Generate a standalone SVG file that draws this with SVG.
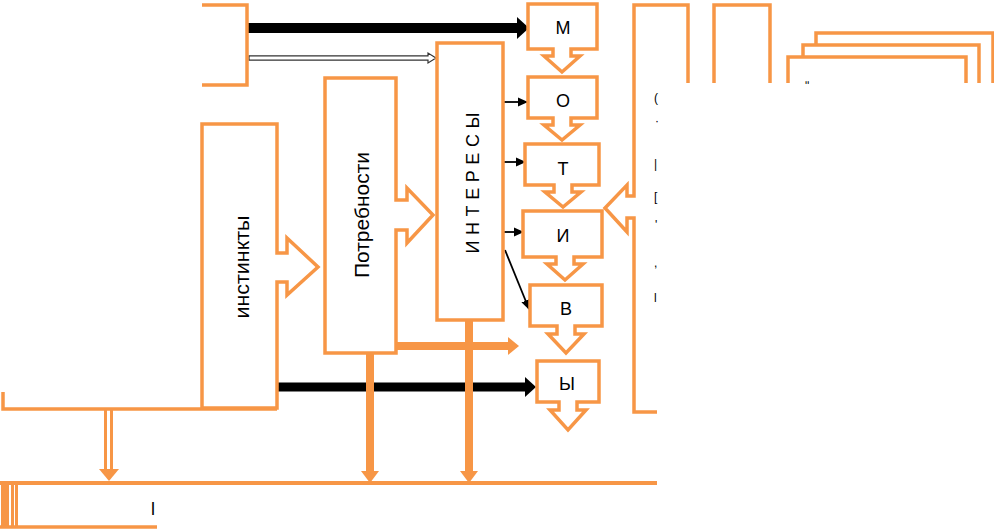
<svg xmlns="http://www.w3.org/2000/svg" width="994" height="530" viewBox="0 0 994 530">
<style>
.o{fill:#ffffff;stroke:#F79646;stroke-width:3.5;stroke-linejoin:miter}
.on{fill:none;stroke:#F79646;stroke-width:3.5}
.of{fill:#F79646;stroke:none}
.ol{stroke:#F79646;fill:none}
.k{stroke:#000;fill:none}
.kf{fill:#000;stroke:none}
.t{font-family:"Liberation Sans","Open Sans",sans-serif;fill:#000}
.frag{font-family:"Liberation Sans",sans-serif;fill:#000;font-size:12px}
</style>
<defs>
<marker id="ah" markerWidth="10" markerHeight="10" refX="9" refY="5" orient="auto" markerUnits="userSpaceOnUse">
<path d="M0,0.5 L10,5 L0,9.5 Z" fill="#000"/>
</marker>
</defs>
<rect width="994" height="530" fill="#fff"/>

<g id="connectors">
<line class="k" x1="247" y1="28" x2="519" y2="28" stroke-width="10"/>
<path class="kf" d="M517,17 L529,28 L517,39 Z"/>
<path d="M249,55.8 H428 V53 L436,58 L428,63 V60.2 H249 Z" fill="#fff" stroke="#333" stroke-width="1.2"/>
<line class="k" x1="503" y1="102" x2="527" y2="102" stroke-width="1.8" marker-end="url(#ah)"/>
<line class="k" x1="503" y1="162" x2="525" y2="162" stroke-width="1.8" marker-end="url(#ah)"/>
<line class="k" x1="503" y1="232" x2="523" y2="232" stroke-width="1.8" marker-end="url(#ah)"/>
<line class="k" x1="505" y1="250" x2="529" y2="309" stroke-width="1.8" marker-end="url(#ah)"/>
<line class="k" x1="277" y1="387" x2="527" y2="387" stroke-width="9"/>
<path class="kf" d="M525,377 L536,387 L525,397 Z"/>
<line class="ol" x1="396" y1="346" x2="509" y2="346" stroke-width="8"/>
<path class="of" d="M508,337 L519,346 L508,355 Z"/>
<line class="ol" x1="370" y1="353" x2="370" y2="473" stroke-width="8"/>
<path class="of" d="M361,471 L370,483 L379,471 Z"/>
<line class="ol" x1="469" y1="320" x2="469" y2="473" stroke-width="8"/>
<path class="of" d="M460,471 L469,483 L478,471 Z"/>
<line class="ol" x1="105.5" y1="409" x2="105.5" y2="471" stroke-width="3"/>
<line class="ol" x1="111.5" y1="409" x2="111.5" y2="471" stroke-width="3"/>
<path class="of" d="M99,469 L109,481 L119,469 Z"/>
</g>

<g id="source-top">
<path class="on" d="M202,5 H247 V85 H202"/>
</g>

<g id="base-left">
<path class="on" d="M3,392 V409 H277"/>
</g>

<g id="instinkty">
<path class="o" d="M202,124 H277 V253 H287 V238 L318,267 L287,295 V282 H277 V408 H202 Z"/>
<text class="t" x="242" y="267" font-size="20" text-anchor="middle" dominant-baseline="central" transform="rotate(-90 242 267)" textLength="103" lengthAdjust="spacingAndGlyphs">инстинкты</text>
</g>

<g id="potrebnosti">
<path class="o" d="M325,78 H396 V200 H407 V188 L433,215 L407,243 V230 H396 V353 H325 Z"/>
<text class="t" x="362" y="215" font-size="20" text-anchor="middle" dominant-baseline="central" transform="rotate(-90 362 215)" textLength="126" lengthAdjust="spacingAndGlyphs">Потребности</text>
</g>

<g id="interesy">
<rect class="o" x="437" y="43" width="66" height="277"/>
<text class="t" x="473" y="183" font-size="18" text-anchor="middle" dominant-baseline="central" transform="rotate(-90 473 183)" textLength="141" lengthAdjust="spacing">И Н Т Е Р Е С Ы</text>
</g>

<g id="motiv-m">
<path class="o" d="M528,4 H597 V49 H571 V56 H580 L562,72 L544,56 H553 V49 H528 Z"/>
<text class="t" x="563" y="34" font-size="18" text-anchor="middle">М</text>
</g>
<g id="motiv-o">
<path class="o" d="M528,77 H597 V118 H571 V125 H580 L562,140 L544,125 H553 V118 H528 Z"/>
<text class="t" x="563" y="107" font-size="18" text-anchor="middle">О</text>
</g>
<g id="motiv-t">
<path class="o" d="M525,144 H599 V185 H572 V192 H581 L563,207 L545,192 H554 V185 H525 Z"/>
<text class="t" x="563" y="175" font-size="18" text-anchor="middle">Т</text>
</g>
<g id="motiv-i">
<path class="o" d="M523,211 H602 V257 H574 V264 H583 L565,280 L547,264 H556 V257 H523 Z"/>
<text class="t" x="563" y="242" font-size="18" text-anchor="middle">И</text>
</g>
<g id="motiv-v">
<path class="o" d="M530,285 H602 V326 H575 V334 H584 L566,353 L548,334 H557 V326 H530 Z"/>
<text class="t" x="566" y="315" font-size="18" text-anchor="middle">В</text>
</g>
<g id="motiv-y">
<path class="o" d="M537,361 H599 V402 H577 V410 H586 L568,430 L550,410 H559 V402 H537 Z"/>
<text class="t" x="567" y="390" font-size="18" text-anchor="middle">Ы</text>
</g>

<g id="values-box">
<path class="on" d="M657,412 H634 V218 H627 V232 L605,208 L627,185 V196 H634 V5 H688 V83"/>
<text class="frag" x="654" y="102" font-size="10">(</text>
<text class="frag" x="655" y="125" font-size="12">·</text>
<text class="frag" x="654" y="168" font-size="14">|</text>
<text class="frag" x="654" y="201" font-size="14">[</text>
<text class="frag" x="655" y="229" font-size="12">'</text>
<text class="frag" x="654" y="267" font-size="12">,</text>
<text class="frag" x="654" y="302" font-size="17">l</text>
</g>

<g id="box-top-2">
<path class="on" d="M714,83 V5 H770 V83"/>
</g>
<g id="stack-boxes">
<path class="on" d="M816,45 V33 H993 V83"/>
<path class="on" d="M803,57 V45 H979 V83"/>
<path class="on" d="M788,83 V57 H966 V83"/>
<text class="frag" x="805" y="90" font-size="12">ʺ</text>
</g>

<g id="bottom-bar">
<line class="ol" x1="0" y1="483" x2="657" y2="483" stroke-width="4"/>
<rect class="of" x="1" y="483" width="8" height="45"/>
<rect class="of" x="11" y="483" width="3" height="45"/>
<rect class="of" x="15" y="483" width="3" height="45"/>
<line class="ol" x1="0" y1="527" x2="157" y2="527" stroke-width="3.5"/>
<text class="t" x="151" y="515" font-size="18">l</text>
</g>
</svg>
